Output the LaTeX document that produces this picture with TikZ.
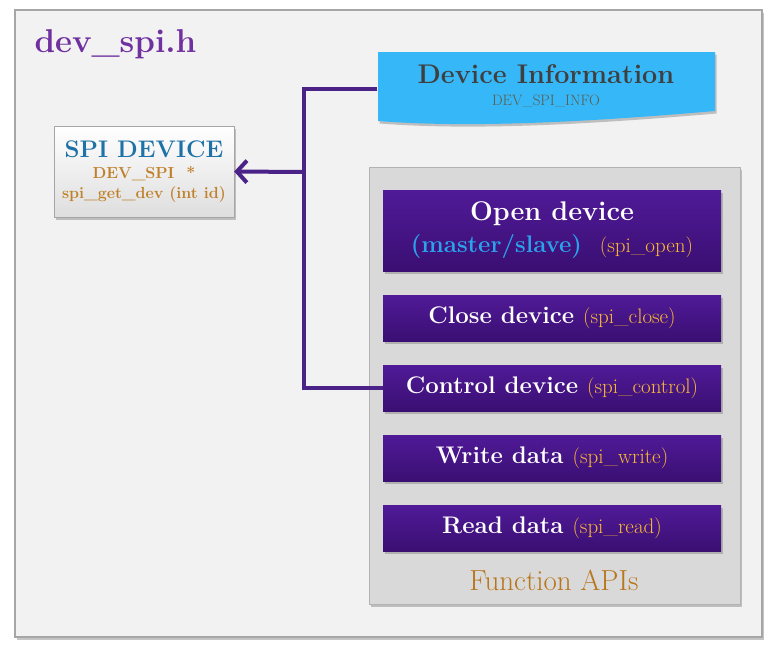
\documentclass[tikz,border=0pt]{standalone}
\usetikzlibrary{positioning,shadows,arrows.meta}
\definecolor{framebg}{HTML}{F2F2F2}
\definecolor{frameline}{HTML}{A6A6A6}
\definecolor{titlepurple}{HTML}{7030A0}
\definecolor{devblue}{HTML}{1E72A8}
\definecolor{devbrown}{HTML}{C0802A}
\definecolor{infoblue}{HTML}{36B8F8}
\definecolor{infotext}{HTML}{3F3F3F}
\definecolor{infosub}{HTML}{5C5C4C}
\definecolor{linkpurple}{HTML}{4A2288}
\definecolor{apisbg}{HTML}{D9D9D9}
\definecolor{apisline}{HTML}{B3B3B3}
\definecolor{btntop}{HTML}{501A98}
\definecolor{btnbot}{HTML}{3A0F72}
\definecolor{fnorange}{HTML}{FBB934}
\definecolor{msblue}{HTML}{2AA3EC}
\definecolor{apibrown}{HTML}{B8761C}
\newcommand{\fs}[2][1.2]{\fontsize{#2}{#1\dimexpr#2pt\relax}\selectfont}
\newcommand{\fn}[1]{{\mdseries\fs{21}\color{fnorange}#1}}
\begin{document}
\begin{tikzpicture}[x=1pt,y=-1pt,
    shad/.style={drop shadow={opacity=0.45,shadow xshift=1.5pt,shadow yshift=-2.5pt}},
    btn/.style={shad,top color=btntop,bottom color=btnbot,draw=none,
      minimum width=338pt,minimum height=46pt,text=white,
      font=\fs{24}\bfseries,inner sep=0pt},
    link/.style={draw=linkpurple,line width=4pt}]
  \useasboundingbox[fill=white] (0,0) rectangle (771,648);
  % outer frame
  \node[shad,draw=frameline,fill=framebg,line width=1.2pt,
    minimum width=747pt,minimum height=627pt] (frame) at (388.5,323.5) {};
  \node[anchor=base west,text=titlepurple,font=\fs{33}\bfseries] (title) at (31,52) {dev\_spi.h};
  % spi device
  \node[shad,draw=frameline,top color=white,bottom color=black!13,
    minimum width=180pt,minimum height=91pt,align=center,inner sep=0pt,
    font=\fontsize{16}{20}\selectfont\bfseries] (dev) at (144,171.5)
    {{\fs{24}\color{devblue}SPI DEVICE}\\[1pt]
     {\color{devbrown}DEV\_SPI\ \ *}\\
     {\color{devbrown}spi\_get\_dev (int id)}};
  % device information
  \fill[infoblue,shad] (378,52) -- (715,52) -- (715,111)
    .. controls (610,120) and (480,129) .. (378,121) -- cycle;
  \node[align=center,inner sep=0pt,minimum width=337pt,
    font=\fontsize{15}{22}\selectfont] (info) at (546,86)
    {{\fs{27}\bfseries\color{infotext}Device Information}\\
     {\color{infosub}DEV\_SPI\_INFO}};
  % function apis
  \node[shad,draw=apisline,fill=apisbg,line width=1pt,
    minimum width=371pt,minimum height=437pt] (apis) at (554.5,385.5) {};
  \node[btn,minimum height=81pt,align=center,font=\fontsize{24}{32}\selectfont\bfseries] (open) at (552,230.5)
    {{\fs{27}Open device}\\
     {\color{msblue}(master/slave)}\ \ \fn{(spi\_open)}};
  \node[btn] (close) at (552,318) {Close device \fn{(spi\_close)}};
  \node[btn] (ctrl) at (552,388) {Control device \fn{(spi\_control)}};
  \node[btn] (write) at (552,458) {Write data \fn{(spi\_write)}};
  \node[btn] (read) at (552,528) {Read data \fn{(spi\_read)}};
  \node[text=apibrown,font=\fs{29}] (apilabel) at (554,580) {Function APIs};
  % connectors
  \coordinate (jtop) at (304,89);
  \coordinate (jmid) at (304,172);
  \draw[link] (jtop -| info.west) -- (jtop) |- (ctrl.west);
  \draw[link,-{Straight Barb[length=10pt,width=22pt,line width=4pt]}] (jmid) -- (dev.east);
\end{tikzpicture}
\end{document}
